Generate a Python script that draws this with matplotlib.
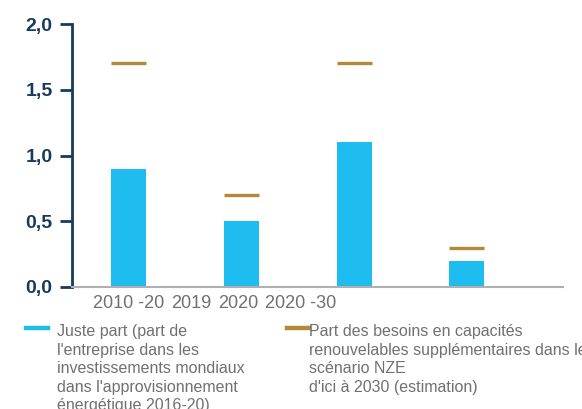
import matplotlib
matplotlib.use('Agg')
import matplotlib.pyplot as plt
from matplotlib.lines import Line2D

# --- Data ---
periods = ["2010 -20", "2019", "2020", "2020 -30"]
juste_part = [0.9, 0.5, 1.1, 0.2]
besoins_nze = [1.7, 0.7, 1.7, 0.3]
legend_labels = [
    "Juste part (part de\nl'entreprise dans les\ninvestissements mondiaux\n"
    "dans l'approvisionnement\nénergétique 2016-20)",
    "Part des besoins en capacités\nrenouvelables supplémentaires dans le\n"
    "scénario NZE\nd'ici à 2030 (estimation)",
]

# --- Style ---
plt.rcParams["font.family"] = ["Liberation Sans", "DejaVu Sans"]
BLUE = "#1fbcef"
GOLD = "#b38838"
NAVY = "#173a5e"
GREY_TXT = "#707070"

fig = plt.figure(figsize=(5.82, 4.09), dpi=100)
ax = fig.add_axes([0.1237, 0.2983, 0.967 - 0.1237, 0.9413 - 0.2983])

x = list(range(len(juste_part)))
bar_w = 0.31
ax.bar(x, juste_part, width=bar_w, color=BLUE, zorder=2)
ax.hlines(besoins_nze, [i - bar_w / 2 for i in x], [i + bar_w / 2 for i in x],
          color=GOLD, lw=2.4, zorder=3)

ax.set_xlim(-0.5, 3.85)
ax.set_ylim(0, 2.0)
ax.set_yticks([0, 0.5, 1.0, 1.5, 2.0])
ax.set_yticklabels(["0,0", "0,5", "1,0", "1,5", "2,0"])
ax.tick_params(axis="y", direction="out", length=9, width=2, color=NAVY,
               labelcolor=NAVY, labelsize=14, pad=5)
for lab in ax.get_yticklabels():
    lab.set_fontweight("bold")

# period labels sit close together under the first bars
ax.set_xticks([0, 0.56, 0.97, 1.53])
ax.set_xticklabels(periods)
ax.tick_params(axis="x", length=0, labelsize=13, labelcolor=GREY_TXT, pad=6)

for s in ["top", "right"]:
    ax.spines[s].set_visible(False)
ax.spines["left"].set_color(NAVY)
ax.spines["left"].set_linewidth(2)
ax.spines["bottom"].set_color("#b0b0b0")
ax.spines["bottom"].set_linewidth(1.5)

# --- Legend (drawn by hand) ---
H = 409.0
W = 582.0
fig.add_artist(Line2D([26 / W, 48 / W], [1 - 328 / H, 1 - 328 / H],
                      color=BLUE, lw=3.2, transform=fig.transFigure))
fig.add_artist(Line2D([287 / W, 309 / W], [1 - 328 / H, 1 - 328 / H],
                      color=GOLD, lw=3.2, transform=fig.transFigure))
fig.text(57 / W, 1 - 324 / H, legend_labels[0], fontsize=11.5, color=GREY_TXT,
         va="top", ha="left", linespacing=1.3)
fig.text(309 / W, 1 - 324 / H, legend_labels[1], fontsize=11.5, color=GREY_TXT,
         va="top", ha="left", linespacing=1.3)

fig.savefig("out.png", dpi=100)
